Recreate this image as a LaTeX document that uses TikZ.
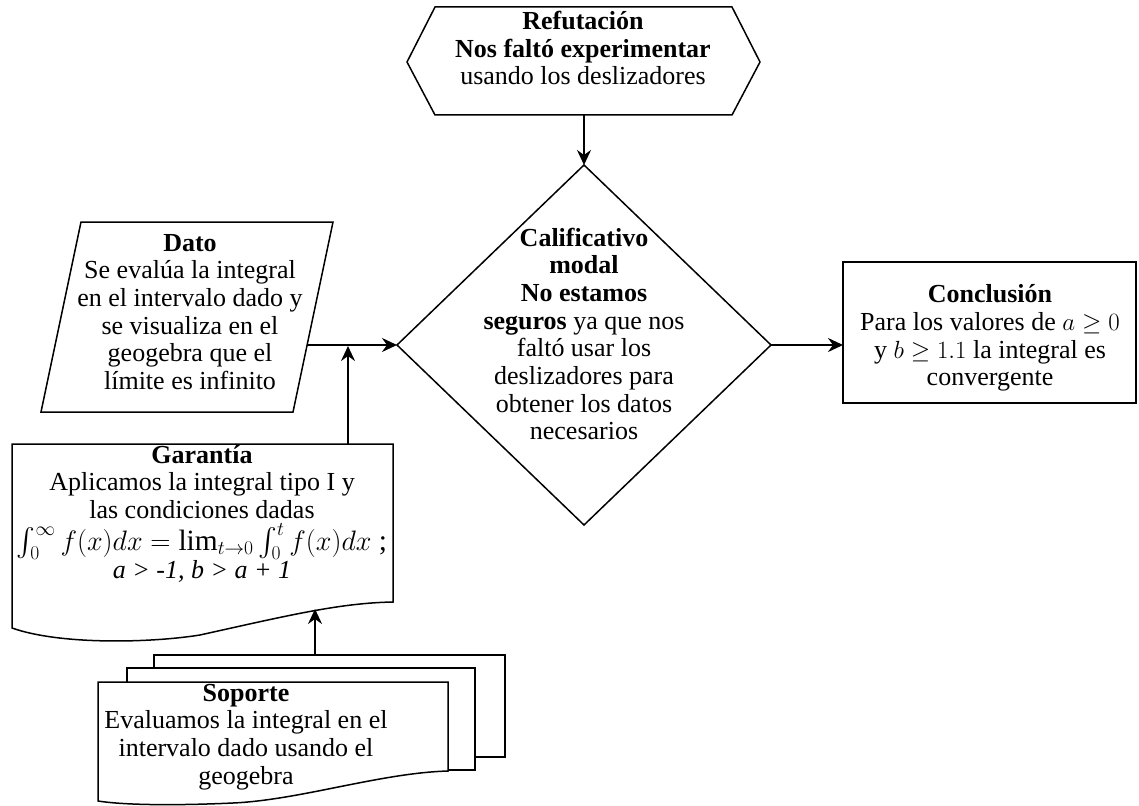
\documentclass[tikz,border=0pt]{standalone}
\usepackage{amsmath}
\usepackage{graphicx}
\usepackage{fontspec}
\setmainfont{Liberation Serif}
\usetikzlibrary{arrows.meta}

\begin{document}
\begin{tikzpicture}[x=1pt,y=-1pt,
  shapeline/.style={draw=black, line width=1.5pt, fill=white, line join=miter},
  boxtext/.style={font=\fontsize{26}{27.7}\selectfont, align=center, inner sep=0pt},
  flow/.style={draw=black, line width=2pt, -{Stealth[length=15pt,width=14pt,inset=5pt]}}]

\fill[white] (0,0) rectangle (1139,805);
\useasboundingbox (0,0) rectangle (1139,805);

% Refutación (hexagon)
\draw[shapeline] (407,62) -- (435,7) -- (732,7) -- (760,62) -- (732,115) -- (435,115) -- cycle;
\node[boxtext] (reftext) at (583,48) {\textbf{Refutación}\\ \textbf{Nos faltó experimentar}\\ usando los deslizadores};
\coordinate (ref-s) at (584,115);

% Calificativo modal (diamond)
\draw[shapeline] (584,165) -- (771,345) -- (584,525) -- (397,345) -- cycle;
\node[boxtext] (caltext) at (584,334) {\textbf{Calificativo}\\ \textbf{modal}\\ \textbf{No estamos}\\ \textbf{seguros} ya que nos\\ faltó usar los\\ deslizadores para\\ obtener los datos\\ necesarios};
\coordinate (cal-n) at (584,165);
\coordinate (cal-w) at (397,345);
\coordinate (cal-e) at (771,345);

% Dato (parallelogram)
\draw[shapeline] (81,222) -- (333,222) -- (293,412) -- (41,412) -- cycle;
\node[boxtext] (datotext) at (190,312) {\textbf{Dato}\\ Se evalúa la integral\\ en el intervalo dado y\\ se visualiza en el\\ geogebra que el\\ límite es infinito};
\coordinate (dato-e) at (307,345);
\coordinate (join) at (348,346);

% Conclusión (rectangle)
\draw[shapeline] (843,262) rectangle (1136,403);
\node[boxtext] (context) at (990,338) {\textbf{Conclusión}\\ Para los valores de $a \geq 0$\\ y $b \geq 1.1$ la integral es\\ convergente};
\coordinate (con-w) at (843,345);

% Garantía (document)
\draw[shapeline] (12,444) -- (393,444) -- (393,602)
  .. controls (340,603) and (290,615) .. (200,635)
  .. controls (150,643) and (60,645) .. (12,628) -- cycle;
\node[boxtext] (gartext) at (202,514) {\textbf{Garantía}\\ Aplicamos la integral tipo I y\\ las condiciones dadas\\[4pt]
  \resizebox{370pt}{!}{$\int_0^\infty f(x)dx = \lim_{t\to 0}\int_0^t f(x)dx$ ;}\\[1pt] \textit{a > -1, b > a + 1}};
\coordinate (gar-n) at (348,444);
\coordinate (gar-s) at (315,609);

% Soporte (stack of documents)
\draw[shapeline] (154,655) rectangle (505,757);
\draw[shapeline] (127,668) rectangle (475,770);
\draw[shapeline] (98,682) -- (448,682) -- (448,771)
  .. controls (380,773) and (300,800) .. (233,803)
  .. controls (190,805) and (130,806) .. (98,801) -- cycle;
\node[boxtext] (soptext) at (246,737) {\textbf{Soporte}\\ Evaluamos la integral en el\\ intervalo dado usando el\\ geogebra};
\coordinate (sop-n) at (315,655);

% Connectors
\draw[flow] (ref-s) -- (cal-n);
\draw[flow] (dato-e) -- (cal-w);
\draw[flow] (gar-n) -- (join);
\draw[flow] (cal-e) -- (con-w);
\draw[flow] (sop-n) -- (gar-s);
\end{tikzpicture}
\end{document}
